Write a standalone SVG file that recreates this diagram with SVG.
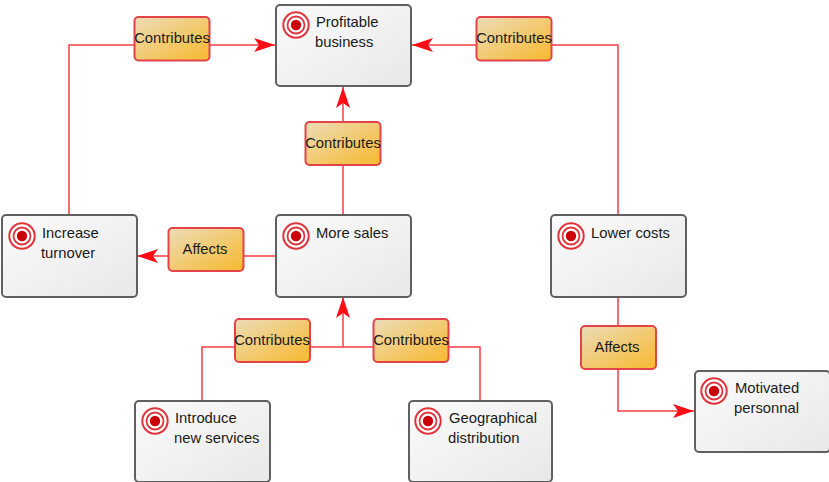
<svg xmlns="http://www.w3.org/2000/svg" xmlns:xlink="http://www.w3.org/1999/xlink" width="829" height="482" viewBox="0 0 829 482">
<style>
text{font-family:"Liberation Sans",Arial,sans-serif;font-size:14.8px;fill:#1a1a1a}
.n{fill:url(#gn);stroke:#606060;stroke-width:2}
.r{fill:url(#gr);stroke:#e2444a;stroke-width:2}
.c{fill:none;stroke:#fa3c44;stroke-width:1.5}
.a{stroke:#fa3c44;stroke-width:1.5;fill:none;marker-end:url(#ah)}
.m{text-anchor:middle}
</style>
<defs>
<linearGradient id="gn" x1="0" y1="0" x2="1" y2="1"><stop offset="0" stop-color="#fbfbfb"/><stop offset="1" stop-color="#e8e8e8"/></linearGradient>
<linearGradient id="gr" x1="0" y1="0" x2="1" y2="1"><stop offset="0" stop-color="#ecdcb8"/><stop offset="1" stop-color="#f8b92e"/></linearGradient>
<marker id="ah" markerUnits="userSpaceOnUse" markerWidth="23" markerHeight="16" refX="21" refY="7" orient="auto"><path d="M0 0L21 7L0 14L5 7Z" fill="#fe0d17"/></marker>
<g id="tgt"><circle r="12.700" fill="#fff" stroke="#e0343c" stroke-width="2"/><circle r="8.500" fill="#fff" stroke="#e0343c" stroke-width="1.800"/><circle r="5.200" fill="#cc0008"/></g>
</defs>
<g id="connectors">
<path class="c" d="M69 215V45H135"/><path class="a" d="M210 45H275"/>
<path class="c" d="M618 215V45H552"/><path class="a" d="M476 45H412"/>
<path class="c" d="M343 215V165"/><path class="a" d="M343 122V87"/>
<path class="c" d="M275 256H244"/><path class="a" d="M169 256H137"/>
<path class="c" d="M202 400V347H235"/><path class="c" d="M480 400V347H449"/>
<path class="c" d="M310 347H374"/><path class="a" d="M343 347V297"/>
<path class="c" d="M618 297V326"/><path class="a" d="M618 369V411H694"/>
</g>
<g id="n-profitable"><rect class="n" x="276" y="5" width="135" height="81" rx="4"/><use xlink:href="#tgt" x="296" y="25"/><text x="316" y="27">Profitable</text><text x="315" y="47">business</text></g>
<g id="n-turnover"><rect class="n" x="2" y="215" width="135" height="82" rx="4"/><use xlink:href="#tgt" x="22" y="236"/><text x="42" y="238">Increase</text><text x="41" y="258">turnover</text></g>
<g id="n-sales"><rect class="n" x="276" y="215" width="135" height="82" rx="4"/><use xlink:href="#tgt" x="296" y="236"/><text x="316" y="238">More sales</text></g>
<g id="n-costs"><rect class="n" x="551" y="215" width="135" height="82" rx="4"/><use xlink:href="#tgt" x="571" y="236"/><text x="591" y="238">Lower costs</text></g>
<g id="n-services"><rect class="n" x="135" y="401" width="135" height="81" rx="4"/><use xlink:href="#tgt" x="155" y="421"/><text x="175" y="423">Introduce</text><text x="174" y="443">new services</text></g>
<g id="n-geo"><rect class="n" x="409" y="401" width="143" height="81" rx="4"/><use xlink:href="#tgt" x="428" y="421"/><text x="449" y="423">Geographical</text><text x="448" y="443">distribution</text></g>
<g id="n-personnal"><rect class="n" x="695" y="371" width="135" height="81" rx="4"/><use xlink:href="#tgt" x="714" y="391"/><text x="735" y="393">Motivated</text><text x="734" y="413">personnal</text></g>
<g id="r1"><rect class="r" x="134.500" y="17" width="75" height="43.500" rx="4"/><text class="m" x="172" y="43">Contributes</text></g>
<g id="r2"><rect class="r" x="476.500" y="17" width="75" height="43.500" rx="4"/><text class="m" x="514" y="43">Contributes</text></g>
<g id="r3"><rect class="r" x="305.500" y="122" width="75" height="43" rx="4"/><text class="m" x="343" y="148">Contributes</text></g>
<g id="r4"><rect class="r" x="168.500" y="228" width="75" height="43" rx="4"/><text class="m" x="205" y="254">Affects</text></g>
<g id="r5"><rect class="r" x="235" y="319" width="75" height="43" rx="4"/><text class="m" x="272" y="345">Contributes</text></g>
<g id="r6"><rect class="r" x="373.500" y="319" width="75" height="43" rx="4"/><text class="m" x="411" y="345">Contributes</text></g>
<g id="r7"><rect class="r" x="581" y="326" width="75" height="43" rx="4"/><text class="m" x="617" y="352">Affects</text></g>
</svg>
